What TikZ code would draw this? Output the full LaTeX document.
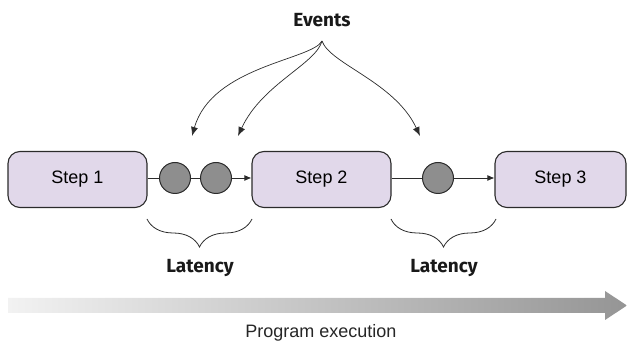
\documentclass[tikz,border=0pt]{standalone}
\usepackage{fontspec}
\setmainfont{Liberation Sans}
\newfontfamily\humfont{Fira Sans}
\usetikzlibrary{arrows.meta,decorations.pathreplacing,shadings}
\definecolor{boxfill}{HTML}{E1D8EA}
\definecolor{boxline}{HTML}{2B2B2B}
\definecolor{dotfill}{HTML}{8E8E8E}
\definecolor{gradleft}{HTML}{F2F2F2}
\definecolor{gradright}{HTML}{959595}
\tikzset{
  stepbox/.style={draw=boxline, line width=1.1pt, fill=boxfill, rounded corners=12pt, minimum height=56pt, inner sep=0pt, font=\fontsize{18}{20}\selectfont},
  dot/.style={circle, draw=boxline, line width=1pt, fill=dotfill, minimum size=31pt, inner sep=0pt},
  conn/.style={draw=boxline, line width=0.9pt},
  connarr/.style={conn, -{Latex[length=7pt,width=6pt]}},
  evarr/.style={draw=boxline, line width=0.7pt, -{Latex[length=9pt,width=7pt]}},
  boldlabel/.style={font=\humfont\bfseries\fontsize{19}{21}\selectfont, text=black!90},
  bracestyle/.style={draw=boxline, line width=0.8pt, decorate, decoration={brace, mirror, amplitude=28pt}}
}
\begin{document}
\begin{tikzpicture}[x=1pt,y=-1pt]
\useasboundingbox (0,0) rectangle (627,344);
% steps
\node[stepbox, minimum width=139pt] (s1) at (77.5,179.5) {Step 1};
\node[stepbox, minimum width=139pt] (s2) at (321.5,179.5) {Step 2};
\node[stepbox, minimum width=131pt] (s3) at (560.5,179.5) {Step 3};
% event dots
\node[dot] (c1) at (175,178) {};
\node[dot] (c2) at (216,178) {};
\node[dot] (c3) at (438,178) {};
% connectors
\draw[conn] (s1.east |- c1) -- (c1);
\draw[conn] (c1) -- (c2);
\draw[connarr] (c2) -- (s2.west |- c2);
\draw[conn] (s2.east |- c3) -- (c3);
\draw[connarr] (c3) -- (s3.west |- c3);
% events label and arrows
\node[boldlabel] (ev) at (322,20) {Events};
\coordinate (ep) at (322,41);
\coordinate (e1) at (192,136);
\coordinate (e2) at (238,136);
\coordinate (e3) at (420,136);
\draw[evarr] (ep) .. controls (312,60) and (212,66) .. (e1);
\draw[evarr] (ep) .. controls (316,64) and (262,84) .. (e2);
\draw[evarr] (ep) .. controls (330,64) and (395,82) .. (e3);
% braces
\draw[bracestyle] (147,219) -- (252,219);
\draw[bracestyle] (391,219) -- (496,219);
\node[boldlabel] (l1) at (200,268) {Latency};
\node[boldlabel] (l2) at (444,268) {Latency};
% program execution arrow
\shade[left color=gradleft, right color=gradright] (8,298) -- (605,298) -- (605,291) -- (627,305.5) -- (605,320) -- (605,313) -- (8,313) -- cycle;
\node[font=\fontsize{18}{20}\selectfont, text=black!85] (pe) at (321,333) {Program execution};
\end{tikzpicture}
\end{document}
